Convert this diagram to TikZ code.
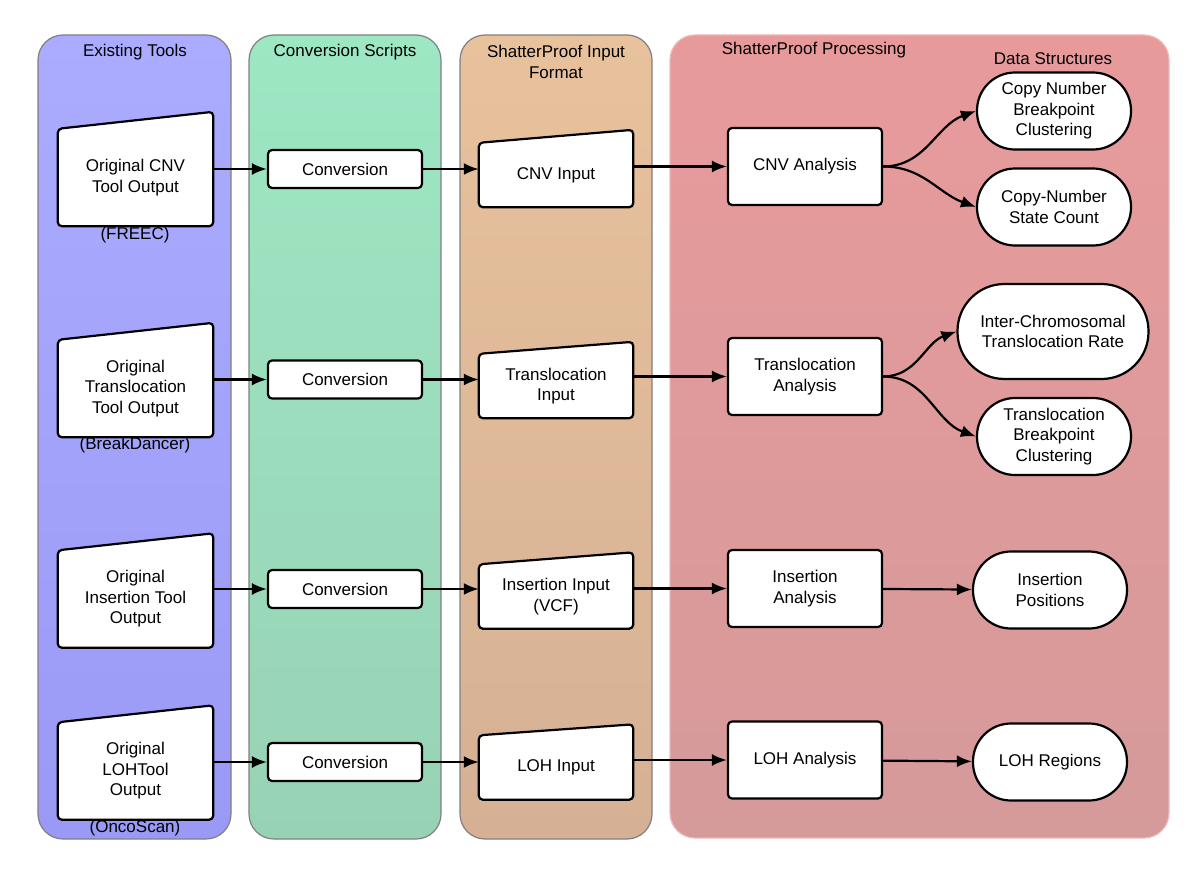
\documentclass[tikz,border=0pt]{standalone}
\usepackage{fontspec}
\setmainfont{Liberation Sans}
\usetikzlibrary{arrows.meta}

\definecolor{bluetop}{HTML}{ABABFF}
\definecolor{bluebot}{HTML}{9A9AF6}
\definecolor{greentop}{HTML}{9DE7C3}
\definecolor{greenbot}{HTML}{98D2B5}
\definecolor{tantop}{HTML}{E8C29C}
\definecolor{tanbot}{HTML}{D5B094}
\definecolor{pinktop}{HTML}{E89A9B}
\definecolor{pinkbot}{HTML}{D59A9A}

\pgfdeclarelayer{lanes}
\pgfdeclarelayer{shapes}
\pgfsetlayers{lanes,shapes,main}

\tikzset{
  lane/.style={draw=gray, line width=1.2pt, rounded corners=25pt},
  box/.style={draw, fill=white, line width=2.2pt, rounded corners=4pt},
  txt/.style={align=center, font=\fontsize{17}{20.5}\selectfont},
  proc/.style={box, txt, minimum width=154pt, minimum height=38pt},
  ana/.style={box, txt, minimum width=154pt, minimum height=77pt},
  manin/.style={txt, minimum width=155pt, minimum height=97pt, inner sep=0pt},
  inform/.style={txt, minimum width=154pt, minimum height=64pt, inner sep=0pt},
  datas/.style={box, txt, rounded corners=38pt, minimum width=154pt, minimum height=77pt, inner sep=0pt},
  conn/.style={->, line width=2.2pt},
}

\begin{document}
\begin{tikzpicture}[x=1pt, y=-1pt, >={Latex[length=15pt,width=12pt]}]
  \useasboundingbox (0,0) rectangle (1200,875);

  % swim lanes
  \begin{pgfonlayer}{lanes}
    \draw[lane, top color=bluetop, bottom color=bluebot] (38,35) rectangle (231,839);
    \draw[lane, top color=greentop, bottom color=greenbot] (249,35) rectangle (441,839);
    \draw[lane, top color=tantop, bottom color=tanbot] (460,35) rectangle (652,839);
    \draw[lane, draw=pinktop!70!white, top color=pinktop, bottom color=pinkbot] (670,35) rectangle (1169,838);
  \end{pgfonlayer}
  \node[txt] (title1) at (135,52) {Existing Tools};
  \node[txt] (title2) at (345,52) {Conversion Scripts};
  \node[txt] (title3) at (556,62) {ShatterProof Input\\Format};
  \node[txt] (title4) at (814,50) {ShatterProof Processing};
  \node[txt] (title5) at (1053,59) {Data Structures};

  % existing tools
  \node[manin] (orig1) at (135.5,177.5) {Original CNV\\Tool Output};
  \node[manin] (orig2) at (135.5,388.5) {Original\\Translocation\\Tool Output};
  \node[manin] (orig3) at (135.5,599) {Original\\Insertion Tool\\Output};
  \node[manin] (orig4) at (135.5,771) {Original\\LOHTool\\Output};
  \node[txt] (src1) at (135,235) {(FREEC)};
  \node[txt] (src2) at (135,445) {(BreakDancer)};
  \node[txt] (src4) at (135,828) {(OncoScan)};

  % conversion scripts
  \node[proc] (conv1) at (345,169) {Conversion};
  \node[proc] (conv2) at (345,379.5) {Conversion};
  \node[proc] (conv3) at (345,589) {Conversion};
  \node[proc] (conv4) at (345,762) {Conversion};

  % input format
  \node[inform] (in1) at (556,175) {CNV Input};
  \node[inform] (in2) at (556,386) {Translocation\\Input};
  \node[inform] (in3) at (556,596.5) {Insertion Input\\(VCF)};
  \node[inform] (in4) at (556,767.5) {LOH Input};

  \begin{pgfonlayer}{shapes}
    \foreach \n/\s in {orig1/17,orig2/17,orig3/17,orig4/17,in1/13,in2/12,in3/12,in4/11}
      \draw[box] (\n.south west) -- (\n.north west) -- ([yshift=\s pt]\n.north east) -- (\n.south east) -- cycle;
  \end{pgfonlayer}

  % processing
  \node[ana] (ana1) at (805,166.5) {CNV Analysis};
  \node[ana] (ana2) at (805,376.5) {Translocation\\Analysis};
  \node[ana] (ana3) at (805,588.5) {Insertion\\Analysis};
  \node[ana] (ana4) at (805,760) {LOH Analysis};

  % data structures
  \node[datas] (ds1) at (1054,111) {Copy Number\\Breakpoint\\Clustering};
  \node[datas] (ds2) at (1054,207) {Copy-Number\\State Count};
  \node[datas, minimum width=191pt, minimum height=95pt, rounded corners=47pt] (ds3) at (1053,331.5) {Inter-Chromosomal\\Translocation Rate};
  \node[datas] (ds4) at (1054,436.5) {Translocation\\Breakpoint\\Clustering};
  \node[datas] (ds5) at (1050,590) {Insertion\\Positions};
  \node[datas] (ds6) at (1050,762) {LOH Regions};

  \foreach \i in {1,2,3,4} {
    \draw[conn] (orig\i.east |- conv\i) -- (conv\i);
    \draw[conn] (conv\i) -- (in\i.west |- conv\i);
    \draw[conn] (in\i.east |- ana\i) -- (ana\i);
  }
  \draw[conn] (ana1.east) to[out=0, in=200] (ds1.west);
  \draw[conn] (ana1.east) to[out=0, in=160] (ds2.west);
  \draw[conn] (ana2.east) to[out=0, in=200] (ds3.west);
  \draw[conn] (ana2.east) to[out=0, in=160] (ds4.west);
  \draw[conn] (ana3) -- (ds5);
  \draw[conn] (ana4) -- (ds6);
\end{tikzpicture}
\end{document}
